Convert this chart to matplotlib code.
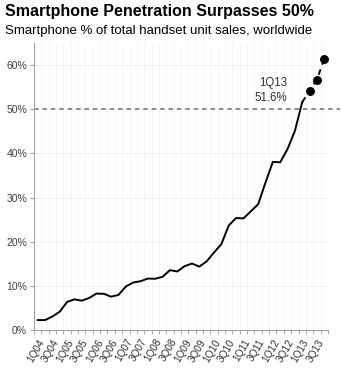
import numpy as np
import matplotlib
matplotlib.use("Agg")
import matplotlib.pyplot as plt

plt.rcParams['font.family'] = ['Liberation Sans', 'DejaVu Sans']

# quarterly labels 1Q04 .. 4Q13
quarters = ["%dQ%02d" % (q, y) for y in range(4, 14) for q in range(1, 5)]

# smartphone share of handset sales (%), actuals 1Q04 .. 1Q13
share = [2.3, 2.3, 3.1, 4.2, 6.4, 7.0, 6.7, 7.3, 8.3, 8.25,
         7.6, 8.0, 9.9, 10.8, 11.1, 11.7, 11.65, 12.1, 13.6, 13.3,
         14.5, 15.1, 14.4, 15.6, 17.6, 19.5, 23.7, 25.4, 25.3, 26.9,
         28.5, 33.4, 38.1, 38.0, 41.0, 45.1, 51.6]
# forecast 2Q13 .. 4Q13
forecast = [54.2, 56.7, 61.4]

fig = plt.figure(figsize=(3.41, 3.69), dpi=100)
ax = fig.add_axes([0.0997, 0.105, 0.862, 0.7785])

x = np.arange(len(share))
xf = np.arange(len(share), len(share) + len(forecast))

ax.plot(x, share, color="black", lw=1.4, solid_joinstyle="round", zorder=3)
ax.plot(np.r_[x[-1], xf], np.r_[share[-1], forecast], color="black", lw=1.4,
        ls=(0, (3, 2.5)), zorder=3)
ax.plot(xf, forecast, "o", color="black", markersize=5.4, zorder=4)

ax.axhline(50, xmin=0, xmax=1.04, color="#707070", lw=1.1, ls=(0, (3, 2.5)),
           clip_on=False, zorder=2)

ax.text(x[-1] - 2.0, share[-1] - 0.4, "%s\n%.1f%%" % (quarters[len(share) - 1], share[-1]),
        ha="right", va="bottom", fontsize=8.3, color="#333333", linespacing=1.3)

ax.set_xlim(-0.5, len(quarters) - 0.5)
ax.set_ylim(0, 65)
ax.set_yticks(np.arange(0, 61, 10))
ax.set_yticklabels(["%d%%" % v for v in range(0, 61, 10)], fontsize=7.5, color="#404040")
ax.set_xticks(np.arange(0, len(quarters) - 1, 2))
ax.set_xticklabels(quarters[0:len(quarters) - 1:2], rotation=60, ha="right",
                   rotation_mode="anchor", fontsize=7.2, color="#333333")
ax.set_xticks(np.arange(-0.5, len(quarters), 1), minor=True)
ax.tick_params(axis="x", which="major", length=0, pad=5)
ax.tick_params(axis="x", which="minor", length=3, color="#a0a0a0")
ax.tick_params(axis="y", length=3, color="#a0a0a0", pad=2)

ax.grid(True, axis="y", color="#f0f0f0", lw=0.6)
ax.grid(True, axis="x", which="minor", color="#f4f4f4", lw=0.6)
ax.set_axisbelow(True)

for s in ["top", "right"]:
    ax.spines[s].set_visible(False)
for s in ["left", "bottom"]:
    ax.spines[s].set_color("#a0a0a0")
    ax.spines[s].set_linewidth(0.8)

fig.text(0.015, 0.988, "Smartphone Penetration Surpasses 50%", fontsize=11.5,
         fontweight="bold", va="top", ha="left")
fig.text(0.015, 0.932, "Smartphone % of total handset unit sales, worldwide",
         fontsize=9.55, va="top", ha="left")

fig.savefig("out.png", dpi=100)
